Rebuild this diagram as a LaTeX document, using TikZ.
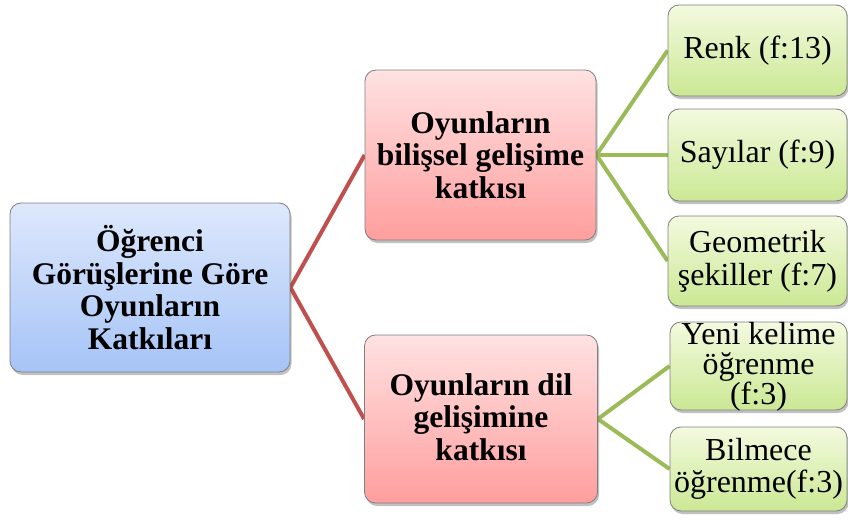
\documentclass[tikz,border=0pt]{standalone}
\usepackage{fontspec}
\setmainfont{Liberation Serif}
\usetikzlibrary{shadows,backgrounds}
\definecolor{redline}{HTML}{C0504D}
\definecolor{greenline}{HTML}{9BBB59}
\definecolor{boxborder}{HTML}{7F7F7F}
\definecolor{bluetop}{HTML}{DDE8FC}
\definecolor{bluebot}{HTML}{A6C4F7}
\definecolor{pinktop}{HTML}{FFE2E2}
\definecolor{pinkbot}{HTML}{FF9E9E}
\definecolor{greentop}{HTML}{F3FADF}
\definecolor{greenbot}{HTML}{CBE894}
\tikzset{
  basebox/.style={draw=boxborder, line width=0.8pt, rounded corners=11pt, inner sep=0pt,
    drop shadow={shadow xshift=1.5pt, shadow yshift=-3pt, opacity=0.35, fill=black!70}},
  rootbox/.style={basebox, top color=bluetop, bottom color=bluebot},
  midbox/.style={basebox, top color=pinktop, bottom color=pinkbot},
  leafbox/.style={basebox, top color=greentop, bottom color=greenbot},
  boldtext/.style={align=center, inner sep=0pt, font=\fontsize{31.5}{32.5}\selectfont\bfseries},
  leaftext/.style={align=center, inner sep=0pt, font=\fontsize{32}{33}\selectfont},
  redconn/.style={draw=redline, line width=4pt},
  greenconn/.style={draw=greenline, line width=4pt},
}
\begin{document}
\begin{tikzpicture}[x=1pt, y=-1pt]
\useasboundingbox (0,0) rectangle (848,519);
% boxes
\node[rootbox, minimum width=280pt, minimum height=169pt] (root) at (150,287.5) {};
\node[midbox, minimum width=231pt, minimum height=170pt] (cog) at (480.5,155) {};
\node[midbox, minimum width=233pt, minimum height=168pt] (lang) at (481,419) {};
\node[leafbox, minimum width=179pt, minimum height=91pt] (renk) at (757.5,50.5) {};
\node[leafbox, minimum width=179pt, minimum height=92pt] (sayi) at (757.5,155) {};
\node[leafbox, minimum width=179pt, minimum height=90pt] (geo) at (757.5,261) {};
\node[leafbox, minimum width=177pt, minimum height=88pt] (yeni) at (758.5,366) {};
\node[leafbox, minimum width=177pt, minimum height=84pt] (bilm) at (758.5,469) {};
% texts
\node[boldtext] (roott) at (root.center) {Öğrenci\\Görüşlerine Göre\\Oyunların\\Katkıları};
\node[boldtext] (cogt) at (cog.center) {Oyunların\\bilişsel gelişime\\katkısı};
\node[boldtext] (langt) at ([yshift=2pt]lang.center) {Oyunların dil\\gelişimine\\katkısı};
\node[leaftext] (renkt) at (renk.center) {Renk (f:13)};
\node[leaftext] (sayit) at (sayi.center) {Sayılar (f:9)};
\node[leaftext] (geot) at (geo.center) {Geometrik\\şekiller (f:7)};
\node[leaftext, font=\fontsize{32}{30}\selectfont] (yenit) at ([yshift=-1pt]yeni.center) {Yeni kelime\\öğrenme\\(f:3)};
\node[leaftext, font=\fontsize{32}{32}\selectfont] (bilmt) at (bilm.center) {Bilmece\\öğrenme(f:3)};
% connectors
\begin{scope}[on background layer]
\draw[redconn] (root.east) -- (cog.west);
\draw[redconn] (root.east) -- (lang.west);
\draw[greenconn] (cog.east) -- (renk.west);
\draw[greenconn] (cog.east) -- (sayi.west);
\draw[greenconn] (cog.east) -- (geo.west);
\draw[greenconn] (lang.east) -- (yeni.west);
\draw[greenconn] (lang.east) -- (bilm.west);
\end{scope}
\end{tikzpicture}
\end{document}
